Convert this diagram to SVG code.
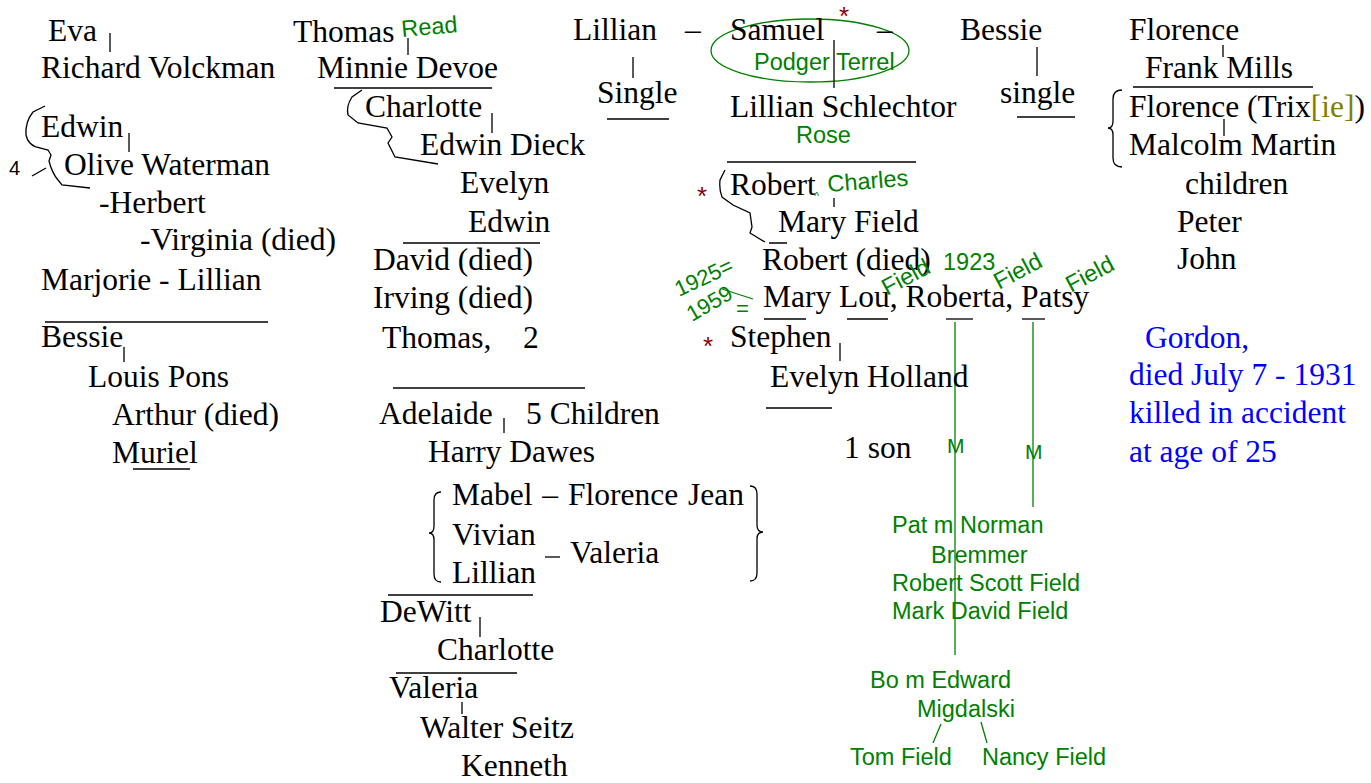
<svg xmlns="http://www.w3.org/2000/svg" width="1371" height="783" viewBox="0 0 1371 783">
<style>
.t{font-family:"Liberation Serif","Times New Roman",serif;font-size:31.5px;fill:#000}
.b{font-family:"Liberation Serif","Times New Roman",serif;font-size:31.5px;fill:#0000ff}
.g{font-family:"Liberation Sans",Arial,sans-serif;font-size:23.5px;fill:#008000}
.gs{font-family:"Liberation Sans",Arial,sans-serif;font-size:22px;fill:#008000}
.r{font-family:"Liberation Sans",Arial,sans-serif;font-size:26px;fill:#8b0000}
.n{font-family:"Liberation Sans",Arial,sans-serif;font-size:20px;fill:#000}
.l{stroke:#000;stroke-width:1.3;fill:none}
.gl{stroke:#008000;stroke-width:1.3;fill:none}
</style>
<rect width="1371" height="783" fill="#fff"/>
<g id="connectors">
  <line class="l" x1="110" y1="33" x2="110" y2="52"/>
  <line class="l" x1="129" y1="133" x2="129" y2="152"/>
  <path class="l" d="M45,106 L33,112 Q25,122 26,135 Q28,144 36,147 L48,150 L51,155 L49,161 Q52,173 58,180 L62,185 L90,188"/>
  <line class="l" x1="32" y1="176" x2="46" y2="168"/>
  <line class="l" x1="45" y1="322" x2="268" y2="322"/>
  <line class="l" x1="124" y1="347" x2="124" y2="362"/>
  <line class="l" x1="133" y1="469" x2="190" y2="469"/>
  <line class="l" x1="408" y1="38" x2="408" y2="55"/>
  <line class="l" x1="334" y1="88" x2="492" y2="88"/>
  <path class="l" d="M362,90 L352,97 Q346,106 348,115 L358,123 L387,128 L392,137 L388,143 L395,157 L438,164"/>
  <line class="l" x1="492" y1="113" x2="492" y2="133"/>
  <line class="l" x1="403" y1="243" x2="540" y2="243"/>
  <line class="l" x1="393" y1="388" x2="585" y2="388"/>
  <line class="l" x1="504" y1="418" x2="504" y2="433"/>
  <path class="l" d="M441,492 Q434,492 434,500 L434,526 Q434,533 429,533 Q434,533 434,540 L434,574 Q434,582 441,582"/>
  <path class="l" d="M750,486 Q757,486 757,494 L757,525 Q757,532 763,532 Q757,532 757,539 L757,573 Q757,581 750,581"/>
  <line class="l" x1="545" y1="557" x2="560" y2="557"/>
  <line class="l" x1="388" y1="595" x2="533" y2="595"/>
  <line class="l" x1="480" y1="617" x2="480" y2="637"/>
  <line class="l" x1="396" y1="673" x2="517" y2="673"/>
  <line class="l" x1="462" y1="702" x2="462" y2="714"/>
  <line class="l" x1="633" y1="57" x2="633" y2="78"/>
  <line class="l" x1="607" y1="119" x2="669" y2="119"/>
  <ellipse class="gl" cx="810" cy="50.5" rx="99" ry="31.5"/>
  <line class="l" x1="834" y1="40" x2="834" y2="88"/>
  <line class="l" x1="727" y1="162" x2="916" y2="162"/>
  <path class="l" d="M725,170 L720,180 Q719,190 722,197 L733,205 L750,213 L752,227 L750,233 L765,242 M769,243 L787,243"/>
  <line class="l" x1="834" y1="198" x2="834" y2="207"/>
  <line class="gl" x1="722" y1="289" x2="753" y2="299"/>
  <line class="l" x1="764" y1="319" x2="806" y2="319"/>
  <line class="l" x1="847" y1="319" x2="888" y2="319"/>
  <line class="l" x1="946" y1="319" x2="973" y2="319"/>
  <line class="l" x1="1022" y1="319" x2="1045" y2="319"/>
  <line class="gl" x1="955" y1="322" x2="955" y2="655"/>
  <line class="gl" x1="1033" y1="322" x2="1033" y2="507"/>
  <line class="l" x1="840" y1="343" x2="840" y2="361"/>
  <line class="l" x1="766" y1="408" x2="832" y2="408"/>
  <line class="gl" x1="941" y1="724" x2="933" y2="743"/>
  <line class="gl" x1="981" y1="722" x2="987" y2="743"/>
  <line class="l" x1="1037" y1="47" x2="1037" y2="76"/>
  <line class="l" x1="1017" y1="117" x2="1075" y2="117"/>
  <line class="l" x1="1223" y1="45" x2="1223" y2="57"/>
  <line class="l" x1="1133" y1="87" x2="1313" y2="87"/>
  <path class="l" d="M1122,90 Q1113,90 1113,99 L1113,121 Q1113,128 1108,128 Q1113,128 1113,135 L1113,158 Q1113,167 1122,167"/>
  <line class="l" x1="1224" y1="119" x2="1224" y2="136"/>
</g>
<g id="col1">
  <g id="eva"><text class="t" x="48" y="41">Eva</text></g>
  <g id="richard"><text class="t" x="41" y="78">Richard Volckman</text></g>
  <g id="edwin1"><text class="t" x="41" y="137">Edwin</text></g>
  <g id="four"><text class="n" x="9" y="175">4</text></g>
  <g id="olive"><text class="t" x="64" y="175">Olive Waterman</text></g>
  <g id="herbert"><text class="t" x="99" y="213">-Herbert</text></g>
  <g id="virginia"><text class="t" x="140" y="250">-Virginia (died)</text></g>
  <g id="marjorie"><text class="t" x="41" y="290">Marjorie - Lillian</text></g>
  <g id="bessie1"><text class="t" x="41" y="347">Bessie</text></g>
  <g id="louis"><text class="t" x="88" y="387">Louis Pons</text></g>
  <g id="arthur"><text class="t" x="112" y="425">Arthur (died)</text></g>
  <g id="muriel"><text class="t" x="112" y="463">Muriel</text></g>
</g>
<g id="col2">
  <g id="thomas"><text class="t" x="293" y="42">Thomas</text></g>
  <g id="read"><text class="g" transform="translate(402,37) rotate(-5)">Read</text></g>
  <g id="minnie"><text class="t" x="317" y="78">Minnie Devoe</text></g>
  <g id="charlotte1"><text class="t" x="365" y="117">Charlotte</text></g>
  <g id="edwindieck"><text class="t" x="420" y="155">Edwin Dieck</text></g>
  <g id="evelyn"><text class="t" x="460" y="193">Evelyn</text></g>
  <g id="edwin2"><text class="t" x="468" y="232">Edwin</text></g>
  <g id="david"><text class="t" x="373" y="270">David (died)</text></g>
  <g id="irving"><text class="t" x="373" y="308">Irving (died)</text></g>
  <g id="thomas2"><text class="t" x="382" y="348">Thomas,</text><text class="t" x="523" y="348">2</text></g>
  <g id="adelaide"><text class="t" x="379" y="424">Adelaide</text></g>
  <g id="fivechildren"><text class="t" x="526" y="424">5 Children</text></g>
  <g id="harry"><text class="t" x="428" y="462">Harry Dawes</text></g>
  <g id="mabel"><text class="t" x="452" y="505" word-spacing="2">Mabel – Florence Jean</text></g>
  <g id="vivian"><text class="t" x="452" y="545">Vivian</text></g>
  <g id="lillian2"><text class="t" x="452" y="583">Lillian</text></g>
  <g id="valeria1"><text class="t" x="570" y="563">Valeria</text></g>
  <g id="dewitt"><text class="t" x="380" y="622">DeWitt</text></g>
  <g id="charlotte2"><text class="t" x="437" y="660">Charlotte</text></g>
  <g id="valeria2"><text class="t" x="389" y="698">Valeria</text></g>
  <g id="walter"><text class="t" x="420" y="738">Walter Seitz</text></g>
  <g id="kenneth"><text class="t" x="461" y="776">Kenneth</text></g>
</g>
<g id="col3">
  <g id="lillian1"><text class="t" x="573" y="40">Lillian</text><text class="t" x="685" y="40">–</text></g>
  <g id="samuel"><text class="t" x="730" y="40">Samuel</text><text class="t" x="877" y="40">–</text></g>
  <g id="star1"><text class="r" x="839" y="25">*</text></g>
  <g id="podger"><text class="g" x="754" y="70">Podger Terrel</text></g>
  <g id="single1"><text class="t" x="597" y="103">Single</text></g>
  <g id="lillianS"><text class="t" x="730" y="117">Lillian Schlechtor</text></g>
  <g id="rose"><text class="g" x="796" y="143">Rose</text></g>
  <g id="star2"><text class="r" x="697" y="205">*</text></g>
  <g id="robert"><text class="t" x="730" y="195">Robert</text></g>
  <g id="caret"><text class="g" style="font-size:11px" x="814" y="200">^</text></g>
  <g id="charles"><text class="g" transform="translate(828,192) rotate(-4.5)">Charles</text></g>
  <g id="maryfield"><text class="t" x="778" y="232">Mary Field</text></g>
  <g id="robertdied"><text class="t" x="762" y="270">Robert (died)</text></g>
  <g id="y1923"><text class="g" x="943" y="270">1923</text></g>
  <g id="y1925"><text class="gs" transform="translate(679,297) rotate(-25)">1925=</text></g>
  <g id="y1959"><text class="gs" transform="translate(692,322) rotate(-30)">1959</text><text class="gs" x="736" y="316">=</text></g>
  <g id="field1"><text class="g" transform="translate(887,296) rotate(-28)">Field</text></g>
  <g id="field2"><text class="g" transform="translate(999,290) rotate(-28)">Field</text></g>
  <g id="field3"><text class="g" transform="translate(1071,293) rotate(-28)">Field</text></g>
  <g id="marylou"><text class="t" x="763" y="307">Mary Lou, Roberta, Patsy</text></g>
  <g id="star3"><text class="r" x="703" y="355">*</text></g>
  <g id="stephen"><text class="t" x="730" y="347">Stephen</text></g>
  <g id="evelynH"><text class="t" x="770" y="387">Evelyn Holland</text></g>
  <g id="oneson"><text class="t" x="844" y="458">1 son</text></g>
  <g id="m1"><text class="g" style="font-size:21px" x="947" y="453">M</text></g>
  <g id="m2"><text class="g" style="font-size:21px" x="1025" y="459">M</text></g>
  <g id="pat"><text class="g" x="892" y="533">Pat m Norman</text></g>
  <g id="bremmer"><text class="g" x="931" y="563">Bremmer</text></g>
  <g id="robertscott"><text class="g" x="892" y="591">Robert Scott Field</text></g>
  <g id="markdavid"><text class="g" x="892" y="619">Mark David Field</text></g>
  <g id="bo"><text class="g" x="870" y="688">Bo m Edward</text></g>
  <g id="migdalski"><text class="g" x="917" y="717">Migdalski</text></g>
  <g id="tom"><text class="g" x="850" y="765">Tom Field</text></g>
  <g id="nancy"><text class="g" x="982" y="765">Nancy Field</text></g>
</g>
<g id="col4">
  <g id="bessie2"><text class="t" x="960" y="40">Bessie</text></g>
  <g id="single2"><text class="t" x="1000" y="103">single</text></g>
  <g id="florence"><text class="t" x="1129" y="40">Florence</text></g>
  <g id="frank"><text class="t" x="1145" y="78">Frank Mills</text></g>
  <g id="trixie"><text class="t" x="1129" y="117">Florence (Trix<tspan fill="#808000">[ie]</tspan>)</text></g>
  <g id="malcolm"><text class="t" x="1129" y="155">Malcolm Martin</text></g>
  <g id="children"><text class="t" x="1185" y="194">children</text></g>
  <g id="peter"><text class="t" x="1177" y="232">Peter</text></g>
  <g id="john"><text class="t" x="1177" y="269">John</text></g>
  <g id="gordon"><text class="b" x="1145" y="348">Gordon,</text><text class="b" x="1129" y="385">died July 7 - 1931</text><text class="b" x="1129" y="423">killed in accident</text><text class="b" x="1129" y="462">at age of 25</text></g>
</g>
</svg>
